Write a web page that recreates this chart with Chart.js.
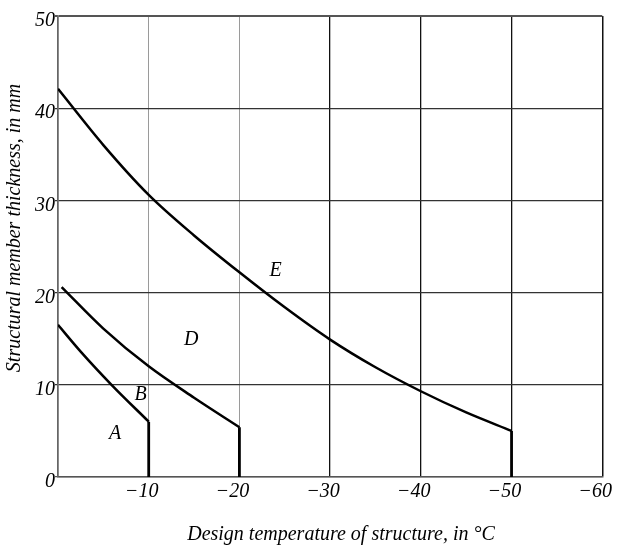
<!DOCTYPE html>
<html>
<head>
<meta charset="utf-8">
<script src="https://cdn.jsdelivr.net/npm/chart.js@4/dist/chart.umd.min.js"></script>
<style>
  html, body { margin: 0; padding: 0; background: #fff; }
  #wrap { width: 622px; height: 547px; position: relative; }
</style>
</head>
<body>
<div id="wrap"><canvas id="c" width="622" height="547"></canvas></div>
<script>
// ---- data ----
const curveE_x = [0, -5, -10, -15, -20, -25, -30, -35, -40, -45, -50];
const curveE_y = [42.1, 36.0, 30.6, 26.2, 22.2, 18.4, 14.9, 11.9, 9.3, 7.0, 5.0];
const curveD_x = [-0.4, -5, -10, -15, -20];
const curveD_y = [20.6, 16.1, 12.0, 8.6, 5.4];
const curveAB_x = [0, -2.5, -5.9, -10];
const curveAB_y = [16.5, 13.6, 10.0, 6.0];
const dropX = [-10, -20, -50];
const dropTop = [6.0, 5.4, 5.0];

const xTicks = [0, -10, -20, -30, -40, -50, -60];
const xTickLabels = ['', '\u221210', '\u221220', '\u221230', '\u221240', '\u221250', '\u221260'];
const yTicks = [0, 10, 20, 30, 40, 50];
const yTickLabels = ['0', '10', '20', '30', '40', '50'];

const regionLabels = ['A', 'B', 'D', 'E'];
const regionX = [-6.3, -9.1, -14.7, -24.0];
const regionY = [4.7, 8.9, 14.9, 22.4];

const xTitle = 'Design temperature of structure, in \u00B0C';
const yTitle = 'Structural member thickness, in mm';

// ---- build datasets ----
function pts(xs, ys) { return xs.map((x, i) => ({ x: x, y: ys[i] })); }
const curveStyle = {
  showLine: true, borderColor: '#000', borderWidth: 2.5, pointRadius: 0,
  cubicInterpolationMode: 'monotone', fill: false
};
const datasets = [
  Object.assign({ label: 'E', data: pts(curveE_x, curveE_y) }, curveStyle),
  Object.assign({ label: 'D', data: pts(curveD_x, curveD_y) }, curveStyle),
  Object.assign({ label: 'A/B', data: pts(curveAB_x, curveAB_y) }, curveStyle)
];
dropX.forEach((x, i) => {
  datasets.push({
    label: 'limit ' + x, data: [{ x: x, y: dropTop[i] }, { x: x, y: 0 }],
    showLine: true, borderColor: '#000', borderWidth: 2.8, pointRadius: 0, tension: 0
  });
});

const serif = "'Liberation Serif', 'DejaVu Serif', serif";

const annotate = {
  id: 'annotate',
  afterDatasetsDraw(chart) {
    const ctx = chart.ctx, xs = chart.scales.x, ys = chart.scales.y;
    ctx.save();
    ctx.fillStyle = '#000';
    ctx.font = 'italic 20px ' + serif;
    ctx.textAlign = 'center';
    ctx.textBaseline = 'middle';
    regionLabels.forEach((t, i) => {
      ctx.fillText(t, xs.getPixelForValue(regionX[i]), ys.getPixelForValue(regionY[i]));
    });
    // axis titles
    ctx.fillText(xTitle, 341, 535);
    ctx.translate(15, 228);
    ctx.rotate(-Math.PI / 2);
    ctx.fillText(yTitle, 0, 0);
    ctx.restore();
  }
};

new Chart(document.getElementById('c'), {
  type: 'scatter',
  data: { datasets: datasets },
  plugins: [annotate],
  options: {
    responsive: false,
    animation: false,
    layout: { padding: { top: 16, right: 18, left: 0, bottom: 0 } },
    plugins: { legend: { display: false }, tooltip: { enabled: false } },
    scales: {
      x: {
        type: 'linear', min: -60, max: 0, reverse: true,
        afterBuildTicks(s) { s.ticks = xTicks.map(v => ({ value: v })); },
        afterFit(s) { s.height = 70; },
        ticks: {
          color: '#000', padding: 3, labelOffset: -7, maxRotation: 0,
          font: { family: serif, size: 20, style: 'italic' },
          callback(v) { const i = xTicks.indexOf(v); return i >= 0 ? xTickLabels[i] : ''; }
        },
        grid: {
          drawTicks: false,
          color(c) {
            const v = c.tick ? c.tick.value : null;
            if (v === -10 || v === -20) return '#9a9a9a';
            if (v === 0) return '#666';
            return '#111';
          },
          lineWidth(c) {
            const v = c.tick ? c.tick.value : null;
            if (v === -10 || v === -20) return 1;
            if (v === 0 || v === -60) return 1.5;
            return 1.3;
          }
        },
        border: { display: true, color: '#555', width: 1.5 }
      },
      y: {
        type: 'linear', min: 0, max: 50,
        afterBuildTicks(s) { s.ticks = yTicks.map(v => ({ value: v })); },
        afterFit(s) { s.width = 58; },
        ticks: {
          color: '#000', padding: 0, labelOffset: 5,
          font: { family: serif, size: 20, style: 'italic' },
          callback(v) { const i = yTicks.indexOf(v); return i >= 0 ? yTickLabels[i] : ''; }
        },
        grid: {
          drawTicks: true, tickLength: 3,
          color(c) {
            const v = c.tick ? c.tick.value : null;
            if (v === 50) return '#555';
            if (v === 0) return '#555';
            return '#333';
          },
          lineWidth(c) {
            const v = c.tick ? c.tick.value : null;
            if (v === 50) return 2;
            return 1.3;
          }
        },
        border: { display: true, color: '#666', width: 1.5 }
      }
    }
  }
});
</script>
</body>
</html>
